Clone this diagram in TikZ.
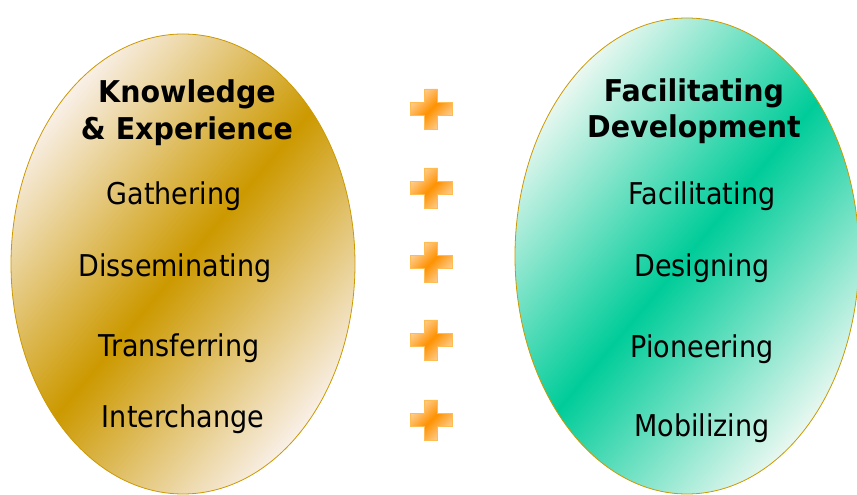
\documentclass[tikz,border=0pt]{standalone}
\usepackage{fontspec}
\setmainfont{DejaVu Sans}[FakeStretch=0.9]
\newfontfamily\headfont{DejaVu Sans}[FakeStretch=0.95]
\definecolor{goldDark}{RGB}{204,153,0}
\definecolor{goldLight}{RGB}{249,240,232}
\definecolor{mintDark}{RGB}{0,204,153}
\definecolor{mintLight}{RGB}{234,248,241}
\definecolor{plusDark}{RGB}{255,145,0}
\definecolor{plusLight}{RGB}{255,212,160}
\definecolor{plusEdge}{RGB}{255,188,80}
\tikzset{
	KnowOval/.style={draw=goldDark, line width=0.8pt, top color=goldLight, bottom color=goldLight, middle color=goldDark, shading angle=50},
	DevOval/.style={draw=goldDark, line width=0.8pt, top color=mintLight, bottom color=mintLight, middle color=mintDark, shading angle=50},
	PlusSign/.style={draw=plusEdge, line width=0.8pt, top color=plusLight, bottom color=plusLight, middle color=plusDark, shading angle=45},
	Word/.style={font=\fontsize{30}{36}\selectfont, inner sep=0pt, anchor=base},
	Head/.style={font=\headfont\bfseries\fontsize{30}{36}\selectfont, inner sep=0pt, anchor=base}
}

\begin{document}
\begin{tikzpicture}[x=1pt, y=1pt]
		\useasboundingbox (0,0) rectangle (857,495);

		% The two ovals
		\shade[KnowOval] (183,231) ellipse [x radius=172, y radius=230];
		\shade[DevOval] (687,239) ellipse [x radius=172, y radius=238];

		% Plus signs between them
		\foreach \y in {386,307,233,155,75}
			\shade[PlusSign, shift={(431,\y)}] (-6.5,-20) -- (6.5,-20) -- (6.5,-6.5) -- (21,-6.5)
				-- (21,6.5) -- (6.5,6.5) -- (6.5,20) -- (-6.5,20) -- (-6.5,6.5) -- (-21,6.5)
				-- (-21,-6.5) -- (-6.5,-6.5) -- cycle;

		% Left oval texts
		\node[Head] (knowA) at (187,392) {Knowledge};
		\node[Head] (knowB) at (187,355) {\& Experience};
		\node[Word] (gather) at (174,290) {Gathering};
		\node[Word] (dissem) at (175,218) {Disseminating};
		\node[Word] (transf) at (179,138) {Transferring};
		\node[Word] (interc) at (183,67) {Interchange};

		% Right oval texts
		\node[Head] (devA) at (694,393) {Facilitating};
		\node[Head] (devB) at (694,357) {Development};
		\node[Word] (facil) at (702,290) {Facilitating};
		\node[Word] (design) at (702,218) {Designing};
		\node[Word] (pione) at (702,137) {Pioneering};
		\node[Word] (mobil) at (702,58) {Mobilizing};
	\end{tikzpicture}
\end{document}
